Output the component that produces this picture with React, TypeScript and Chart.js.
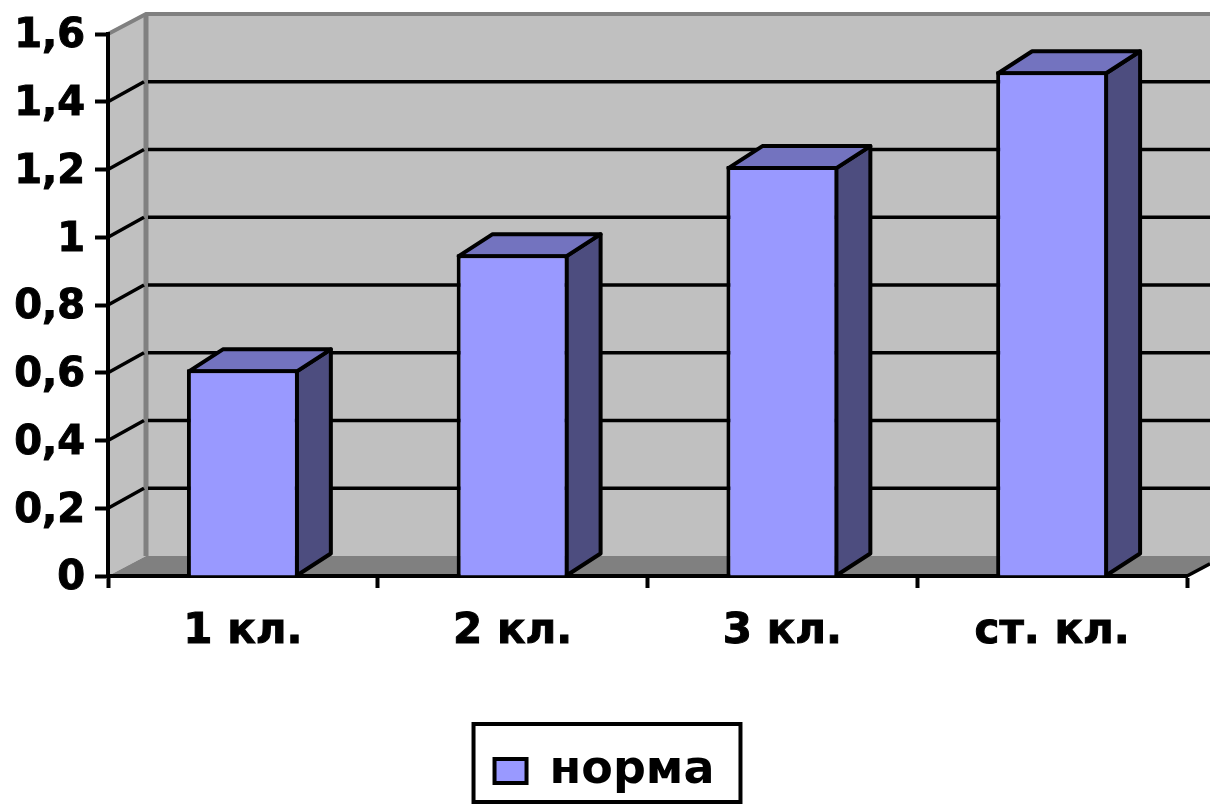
import React, { useEffect, useRef } from "react";
import { Chart, registerables } from "chart.js";

Chart.register(...registerables);

const categories = ["1 кл.", "2 кл.", "3 кл.", "ст. кл."];
const seriesName = "норма";
const seriesValues = [0.61, 0.95, 1.21, 1.49];
const yMin = 0;
const yMax = 1.6;
const yStep = 0.2;

const FONT = "'DejaVu Sans', sans-serif";
const DEPTH_X = 38;
const DEPTH_Y = -20;
const BAR_DX = 34;
const BAR_DY = -22;

const walls3d = {
  id: "walls3d",
  beforeDraw(chart: any) {
    const { ctx, width } = chart;
    const { left, right, top, bottom } = chart.chartArea;
    const yScale = chart.scales.y;
    const backLeft = left + DEPTH_X;
    const backTop = top + DEPTH_Y;
    const backBottom = bottom + DEPTH_Y;
    ctx.save();
    ctx.fillStyle = "#C0C0C0";
    ctx.beginPath();
    ctx.moveTo(left, top);
    ctx.lineTo(backLeft, backTop);
    ctx.lineTo(width, backTop);
    ctx.lineTo(width, backBottom);
    ctx.lineTo(backLeft, backBottom);
    ctx.lineTo(left, bottom);
    ctx.closePath();
    ctx.fill();
    ctx.fillStyle = "#808080";
    ctx.beginPath();
    ctx.moveTo(left, bottom);
    ctx.lineTo(backLeft, backBottom);
    ctx.lineTo(width, backBottom);
    ctx.lineTo(width, bottom + (DEPTH_Y * (width - right)) / DEPTH_X);
    ctx.lineTo(right, bottom);
    ctx.closePath();
    ctx.fill();
    ctx.strokeStyle = "#808080";
    ctx.lineWidth = 4;
    ctx.beginPath();
    ctx.moveTo(left, top);
    ctx.lineTo(backLeft, backTop);
    ctx.lineTo(width, backTop);
    ctx.stroke();
    ctx.lineWidth = 5;
    ctx.beginPath();
    ctx.moveTo(backLeft, backTop);
    ctx.lineTo(backLeft, backBottom);
    ctx.stroke();
    ctx.strokeStyle = "#000";
    ctx.lineWidth = 3.5;
    for (const tick of yScale.ticks) {
      if (tick.value <= yMin || tick.value >= yMax) continue;
      const y = yScale.getPixelForValue(tick.value);
      ctx.beginPath();
      ctx.moveTo(left, y);
      ctx.lineTo(backLeft - 2, y + DEPTH_Y);
      ctx.stroke();
      ctx.beginPath();
      ctx.moveTo(backLeft + 2, y + DEPTH_Y);
      ctx.lineTo(width, y + DEPTH_Y);
      ctx.stroke();
    }
    ctx.beginPath();
    ctx.moveTo(right, bottom);
    ctx.lineTo(width, bottom + (DEPTH_Y * (width - right)) / DEPTH_X);
    ctx.stroke();
    ctx.restore();
  },
};

const bars3d = {
  id: "bars3d",
  beforeDatasetsDraw(chart: any) {
    const { ctx } = chart;
    const meta = chart.getDatasetMeta(0);
    ctx.save();
    ctx.lineWidth = 4;
    ctx.strokeStyle = "#000";
    ctx.lineJoin = "round";
    for (const bar of meta.data) {
      const l = bar.x - bar.width / 2 + 2;
      const r = bar.x + bar.width / 2 - 2;
      const t = bar.y + 2;
      const b = bar.base;
      ctx.fillStyle = "#4D4D7F";
      ctx.beginPath();
      ctx.moveTo(r, b);
      ctx.lineTo(r + BAR_DX, b + BAR_DY);
      ctx.lineTo(r + BAR_DX, t + BAR_DY);
      ctx.lineTo(r, t);
      ctx.closePath();
      ctx.fill();
      ctx.stroke();
      ctx.fillStyle = "#7373BF";
      ctx.beginPath();
      ctx.moveTo(l, t);
      ctx.lineTo(l + BAR_DX, t + BAR_DY);
      ctx.lineTo(r + BAR_DX, t + BAR_DY);
      ctx.lineTo(r, t);
      ctx.closePath();
      ctx.fill();
      ctx.stroke();
    }
    ctx.restore();
  },
};

const legendFrame = {
  id: "legendFrame",
  afterLayout(chart: any) {
    chart.legend.left += 11;
    chart.legend.right += 11;
  },
  afterDraw(chart: any) {
    const { ctx, legend } = chart;
    const hit = legend.legendHitBoxes[0];
    ctx.save();
    ctx.strokeStyle = "#000";
    ctx.lineWidth = 4;
    ctx.strokeRect(hit.left - 21, legend.top + 2, hit.width + 47, legend.height - 4);
    ctx.restore();
  },
};

export default function App() {
  const ref = useRef<HTMLCanvasElement>(null);
  useEffect(() => {
    document.body.style.margin = "0";
    const chart = new Chart(ref.current as HTMLCanvasElement, {
      type: "bar",
      data: {
        labels: categories,
        datasets: [
          {
            label: seriesName,
            data: seriesValues,
            backgroundColor: "#9999FF",
            borderColor: "#000000",
            borderWidth: 4,
            barPercentage: 0.415,
            categoryPercentage: 1,
          },
        ],
      },
      options: {
        responsive: false,
        animation: false,
        layout: { padding: { left: 0, top: 33, right: 23, bottom: 1 } },
        plugins: {
          title: { display: false },
          tooltip: { enabled: false },
          legend: {
            display: true,
            position: "bottom",
            labels: {
              color: "#000",
              font: { family: FONT, size: 46, weight: "bold" },
              boxWidth: 32,
              boxHeight: 24,
              padding: 26,
            },
          },
        },
        scales: {
          x: {
            offset: true,
            grid: {
              display: true,
              drawOnChartArea: false,
              drawTicks: true,
              tickLength: 12,
              tickWidth: 4,
              tickColor: "#000",
            },
            border: { display: true, color: "#000", width: 4 },
            ticks: {
              color: "#000",
              font: { family: FONT, size: 42, weight: "bold" },
              padding: 19,
              maxRotation: 0,
              autoSkip: false,
              textStrokeColor: "#000",
              textStrokeWidth: 1,
            },
            afterFit(scale: any) {
              scale.height = 146;
            },
          },
          y: {
            min: yMin,
            max: yMax,
            grid: {
              display: true,
              drawOnChartArea: false,
              drawTicks: true,
              tickLength: 13,
              tickWidth: 4,
              tickColor: "#000",
            },
            border: { display: true, color: "#000", width: 4 },
            ticks: {
              stepSize: yStep,
              color: "#000",
              font: { family: FONT, size: 40, weight: "bold" },
              padding: 10,
              labelOffset: 3,
              textStrokeColor: "#000",
              textStrokeWidth: 1,
              callback: (v: any) => String(Math.round(Number(v) * 10) / 10).replace(".", ","),
            },
            afterFit(scale: any) {
              scale.width = 108;
            },
          },
        },
      },
      plugins: [walls3d, bars3d, legendFrame],
    } as any);
    return () => chart.destroy();
  }, []);
  return <canvas ref={ref} width={1210} height={805} style={{ display: "block" }} />;
}
